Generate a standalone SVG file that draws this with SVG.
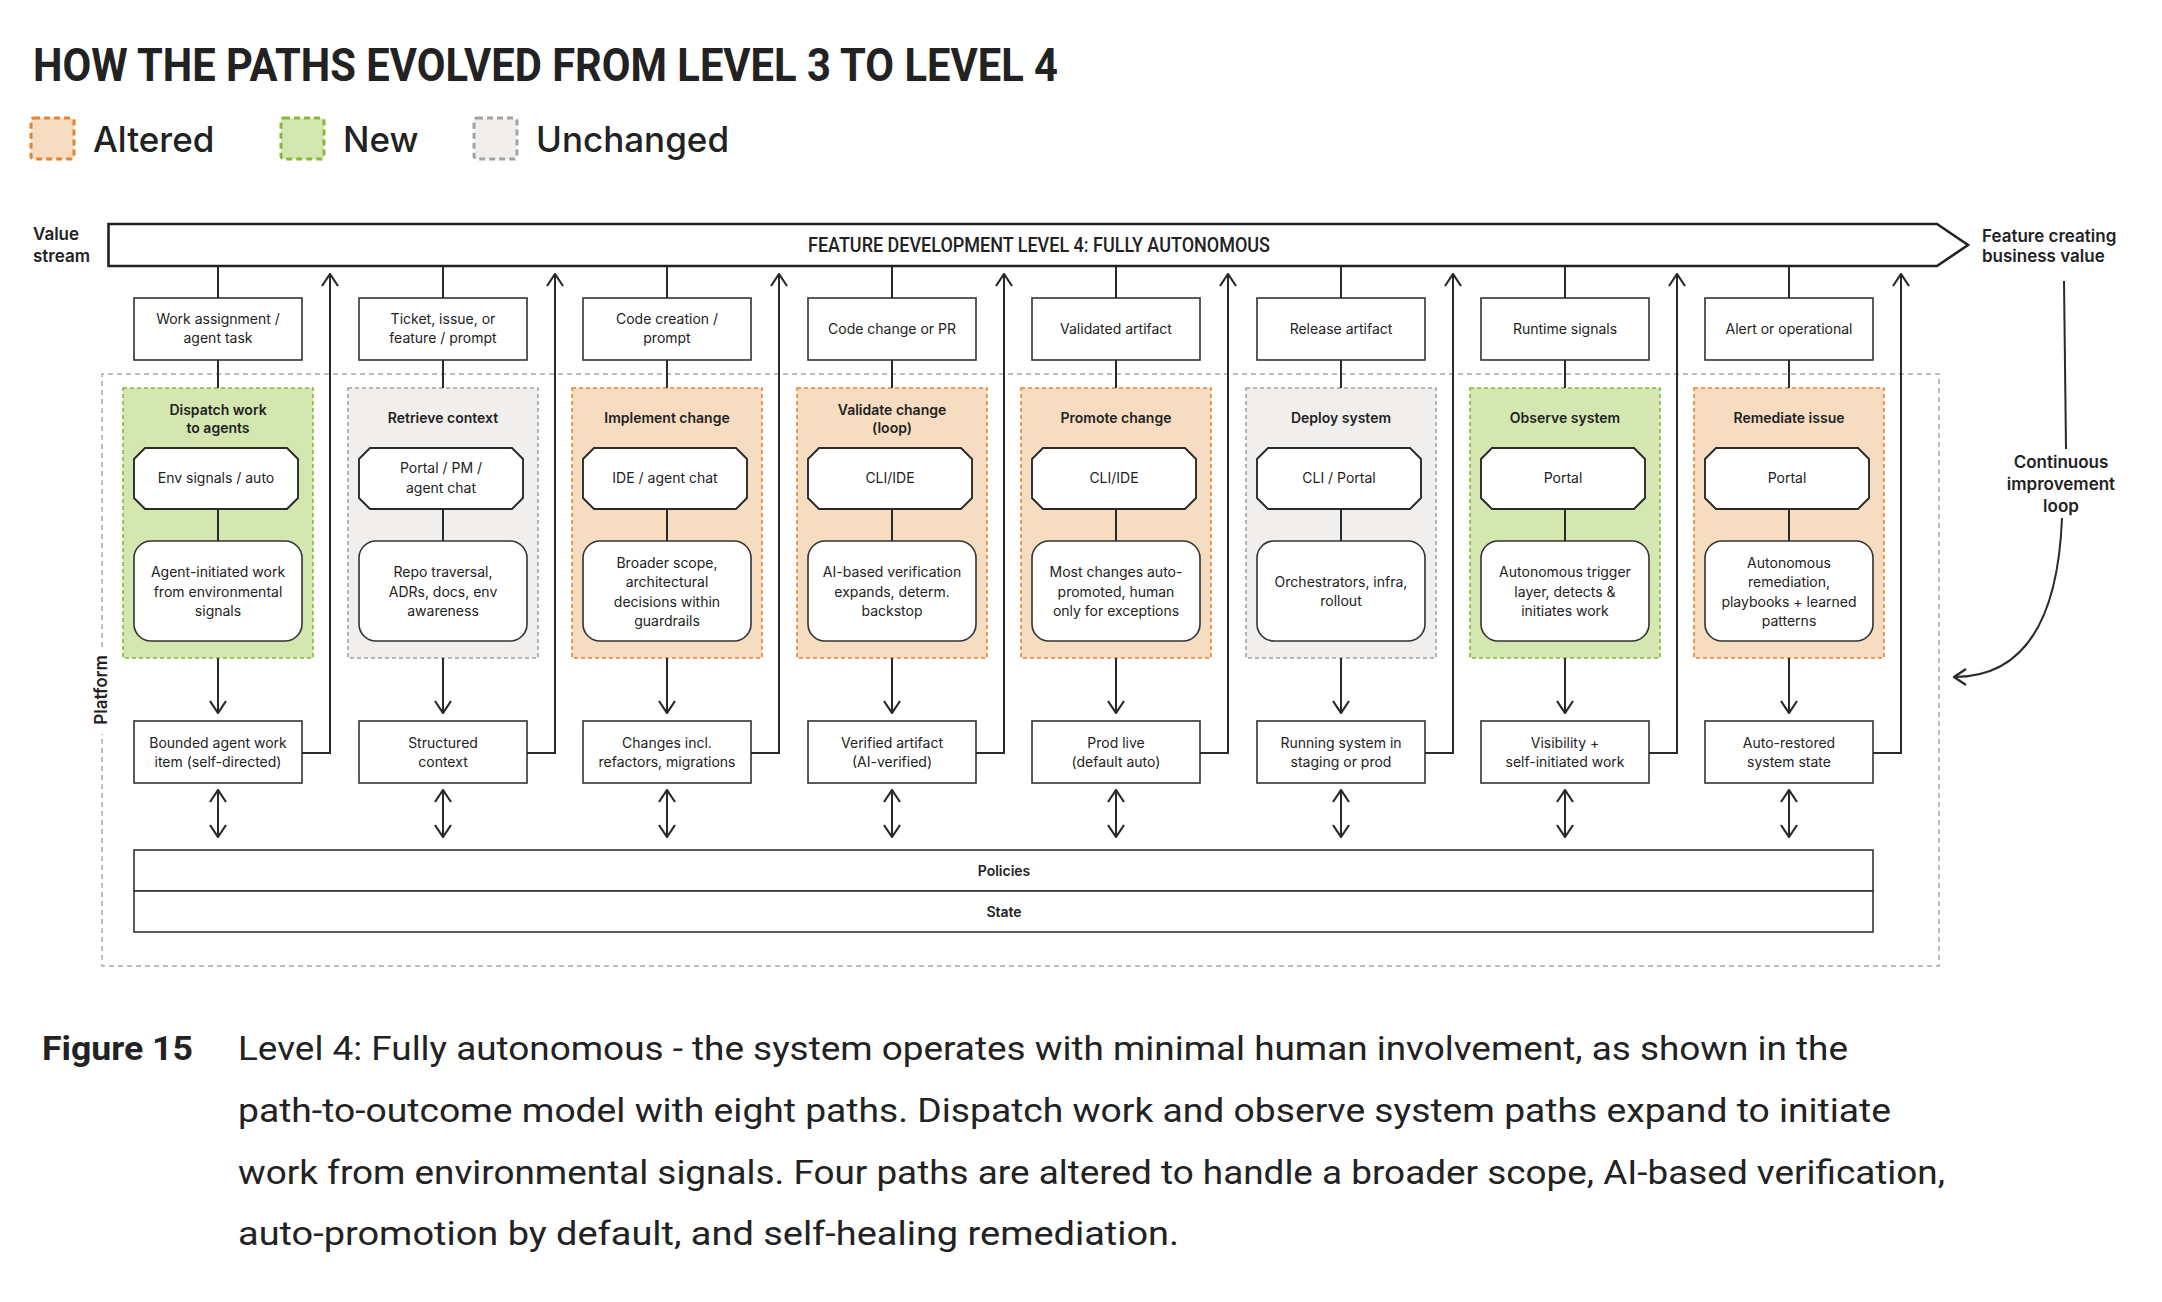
<svg xmlns="http://www.w3.org/2000/svg" width="2162" height="1302" viewBox="0 0 2162 1302">
<defs>
<style>
.bg{fill:#ffffff}
.box{fill:#ffffff;stroke:#333333;stroke-width:1.6}
.oct{fill:#ffffff;stroke:#2a2a2a;stroke-width:1.9}
.alt{fill:#f6dcc0;stroke:#e8822e;stroke-width:1.6;stroke-dasharray:4 3}
.new{fill:#d5e7b0;stroke:#86b83a;stroke-width:1.6;stroke-dasharray:4 3}
.unc{fill:#f0efee;stroke:#a3a3a3;stroke-width:1.6;stroke-dasharray:4 3}
.lg{stroke-width:3;stroke-dasharray:6 4}
.t{font-family:Inter,"Liberation Sans",sans-serif;font-size:14px;fill:#222222;text-anchor:middle}
.h{font-family:Inter,"Liberation Sans",sans-serif;font-size:14px;font-weight:600;fill:#222222;text-anchor:middle}
.lbl{font-family:Inter,"Liberation Sans",sans-serif;font-size:17px;font-weight:600;fill:#222222}
.leg{font-family:Inter,"Liberation Sans",sans-serif;font-size:35px;font-weight:500;fill:#222222}
.cond{font-family:Roboto,"Liberation Sans",sans-serif;fill:#222222}
.ln{fill:none;stroke:#2a2a2a;stroke-width:2}
.ar{fill:none;stroke:#2a2a2a;stroke-width:2;marker-end:url(#ah)}
.dar{fill:none;stroke:#2a2a2a;stroke-width:2;marker-start:url(#ah);marker-end:url(#ah)}
</style>
<marker id="ah" viewBox="0 0 14 18" refX="13" refY="9" markerWidth="14" markerHeight="18" markerUnits="userSpaceOnUse" orient="auto-start-reverse">
<path d="M1,1 L13,9 L1,17" fill="none" stroke="#2a2a2a" stroke-width="2.2"/>
</marker>
</defs>
<rect class="bg" x="0" y="0" width="2162" height="1302"/>

<g id="title">
<text class="cond" x="33" y="81" font-size="46" font-weight="700" textLength="1025" lengthAdjust="spacingAndGlyphs">HOW THE PATHS EVOLVED FROM LEVEL 3 TO LEVEL 4</text>
</g>

<g id="legend">
<g id="legend-altered"><rect class="alt lg" x="31" y="118" width="43" height="41" rx="3"/><text class="leg" x="93" y="152">Altered</text></g>
<g id="legend-new"><rect class="new lg" x="281" y="118" width="43" height="41" rx="3"/><text class="leg" x="343" y="152">New</text></g>
<g id="legend-unchanged"><rect class="unc lg" x="474" y="118" width="43" height="41" rx="3"/><text class="leg" x="536" y="152">Unchanged</text></g>
</g>

<g id="platform">
<path d="M102,647 V374 H1939 V966 H102 V734" fill="none" stroke="#aaaaaa" stroke-width="1.5" stroke-dasharray="5 4"/>
<text class="lbl" transform="translate(107,690) rotate(-90)" text-anchor="middle" font-size="16">Platform</text>
</g>

<g id="value-stream-label">
<text class="lbl" x="33" y="240" font-size="16.5">Value</text>
<text class="lbl" x="33" y="262" font-size="16.5">stream</text>
</g>

<g id="value-stream-bar">
<path d="M108.5,224 H1937 L1968,245 L1937,266 H108.5 Z" fill="#ffffff" stroke="#222222" stroke-width="2.6"/>
<text class="cond" x="808" y="252" font-size="19.5" font-weight="500" textLength="462" lengthAdjust="spacingAndGlyphs">FEATURE DEVELOPMENT LEVEL 4: FULLY AUTONOMOUS</text>
</g>

<g id="outcome-label">
<text class="lbl" x="1982" y="242">Feature creating</text>
<text class="lbl" x="1982" y="262">business value</text>
</g>

<g id="loop-label">
<text class="lbl" x="2061" y="468" text-anchor="middle">Continuous</text>
<text class="lbl" x="2061" y="490" text-anchor="middle">improvement</text>
<text class="lbl" x="2061" y="512" text-anchor="middle">loop</text>
</g>

<!-- Column 1 -->
<g id="col1-input"><rect class="box" x="134" y="298" width="168" height="62"/><text class="t" x="218" y="324">Work assignment /</text><text class="t" x="218" y="343">agent task</text></g>
<g id="col1-path"><rect class="new" x="123" y="388" width="190" height="270"/><text class="h" x="218" y="415">Dispatch work</text><text class="h" x="218" y="433">to agents</text></g>
<g id="col1-interface"><path class="oct" d="M145,448 H287 L298,459 V498 L287,509 H145 L134,498 V459 Z"/><text class="t" x="216" y="483">Env signals / auto</text></g>
<g id="col1-capability"><rect class="box" x="134" y="541" width="168" height="100" rx="17"/><text class="t" x="218" y="577">Agent-initiated work</text><text class="t" x="218" y="596.5">from environmental</text><text class="t" x="218" y="616">signals</text></g>
<g id="col1-output"><rect class="box" x="134" y="721" width="168" height="62"/><text class="t" x="218" y="748">Bounded agent work</text><text class="t" x="218" y="767">item (self-directed)</text></g>

<!-- Column 2 -->
<g id="col2-input"><rect class="box" x="359" y="298" width="168" height="62"/><text class="t" x="443" y="324">Ticket, issue, or</text><text class="t" x="443" y="343">feature / prompt</text></g>
<g id="col2-path"><rect class="unc" x="348" y="388" width="190" height="270"/><text class="h" x="443" y="423">Retrieve context</text></g>
<g id="col2-interface"><path class="oct" d="M370,448 H512 L523,459 V498 L512,509 H370 L359,498 V459 Z"/><text class="t" x="441" y="473">Portal / PM /</text><text class="t" x="441" y="492.5">agent chat</text></g>
<g id="col2-capability"><rect class="box" x="359" y="541" width="168" height="100" rx="17"/><text class="t" x="443" y="577">Repo traversal,</text><text class="t" x="443" y="596.5">ADRs, docs, env</text><text class="t" x="443" y="616">awareness</text></g>
<g id="col2-output"><rect class="box" x="359" y="721" width="168" height="62"/><text class="t" x="443" y="748">Structured</text><text class="t" x="443" y="767">context</text></g>

<!-- Column 3 -->
<g id="col3-input"><rect class="box" x="583" y="298" width="168" height="62"/><text class="t" x="667" y="324">Code creation /</text><text class="t" x="667" y="343">prompt</text></g>
<g id="col3-path"><rect class="alt" x="572" y="388" width="190" height="270"/><text class="h" x="667" y="423">Implement change</text></g>
<g id="col3-interface"><path class="oct" d="M594,448 H736 L747,459 V498 L736,509 H594 L583,498 V459 Z"/><text class="t" x="665" y="483">IDE / agent chat</text></g>
<g id="col3-capability"><rect class="box" x="583" y="541" width="168" height="100" rx="17"/><text class="t" x="667" y="568">Broader scope,</text><text class="t" x="667" y="587.3">architectural</text><text class="t" x="667" y="606.6">decisions within</text><text class="t" x="667" y="626">guardrails</text></g>
<g id="col3-output"><rect class="box" x="583" y="721" width="168" height="62"/><text class="t" x="667" y="748">Changes incl.</text><text class="t" x="667" y="767">refactors, migrations</text></g>

<!-- Column 4 -->
<g id="col4-input"><rect class="box" x="808" y="298" width="168" height="62"/><text class="t" x="892" y="334">Code change or PR</text></g>
<g id="col4-path"><rect class="alt" x="797" y="388" width="190" height="270"/><text class="h" x="892" y="415">Validate change</text><text class="h" x="892" y="433">(loop)</text></g>
<g id="col4-interface"><path class="oct" d="M819,448 H961 L972,459 V498 L961,509 H819 L808,498 V459 Z"/><text class="t" x="890" y="483">CLI/IDE</text></g>
<g id="col4-capability"><rect class="box" x="808" y="541" width="168" height="100" rx="17"/><text class="t" x="892" y="577">AI-based verification</text><text class="t" x="892" y="596.5">expands, determ.</text><text class="t" x="892" y="616">backstop</text></g>
<g id="col4-output"><rect class="box" x="808" y="721" width="168" height="62"/><text class="t" x="892" y="748">Verified artifact</text><text class="t" x="892" y="767">(AI-verified)</text></g>

<!-- Column 5 -->
<g id="col5-input"><rect class="box" x="1032" y="298" width="168" height="62"/><text class="t" x="1116" y="334">Validated artifact</text></g>
<g id="col5-path"><rect class="alt" x="1021" y="388" width="190" height="270"/><text class="h" x="1116" y="423">Promote change</text></g>
<g id="col5-interface"><path class="oct" d="M1043,448 H1185 L1196,459 V498 L1185,509 H1043 L1032,498 V459 Z"/><text class="t" x="1114" y="483">CLI/IDE</text></g>
<g id="col5-capability"><rect class="box" x="1032" y="541" width="168" height="100" rx="17"/><text class="t" x="1116" y="577">Most changes auto-</text><text class="t" x="1116" y="596.5">promoted, human</text><text class="t" x="1116" y="616">only for exceptions</text></g>
<g id="col5-output"><rect class="box" x="1032" y="721" width="168" height="62"/><text class="t" x="1116" y="748">Prod live</text><text class="t" x="1116" y="767">(default auto)</text></g>

<!-- Column 6 -->
<g id="col6-input"><rect class="box" x="1257" y="298" width="168" height="62"/><text class="t" x="1341" y="334">Release artifact</text></g>
<g id="col6-path"><rect class="unc" x="1246" y="388" width="190" height="270"/><text class="h" x="1341" y="423">Deploy system</text></g>
<g id="col6-interface"><path class="oct" d="M1268,448 H1410 L1421,459 V498 L1410,509 H1268 L1257,498 V459 Z"/><text class="t" x="1339" y="483">CLI / Portal</text></g>
<g id="col6-capability"><rect class="box" x="1257" y="541" width="168" height="100" rx="17"/><text class="t" x="1341" y="587">Orchestrators, infra,</text><text class="t" x="1341" y="606">rollout</text></g>
<g id="col6-output"><rect class="box" x="1257" y="721" width="168" height="62"/><text class="t" x="1341" y="748">Running system in</text><text class="t" x="1341" y="767">staging or prod</text></g>

<!-- Column 7 -->
<g id="col7-input"><rect class="box" x="1481" y="298" width="168" height="62"/><text class="t" x="1565" y="334">Runtime signals</text></g>
<g id="col7-path"><rect class="new" x="1470" y="388" width="190" height="270"/><text class="h" x="1565" y="423">Observe system</text></g>
<g id="col7-interface"><path class="oct" d="M1492,448 H1634 L1645,459 V498 L1634,509 H1492 L1481,498 V459 Z"/><text class="t" x="1563" y="483">Portal</text></g>
<g id="col7-capability"><rect class="box" x="1481" y="541" width="168" height="100" rx="17"/><text class="t" x="1565" y="577">Autonomous trigger</text><text class="t" x="1565" y="596.5">layer, detects &amp;</text><text class="t" x="1565" y="616">initiates work</text></g>
<g id="col7-output"><rect class="box" x="1481" y="721" width="168" height="62"/><text class="t" x="1565" y="748">Visibility +</text><text class="t" x="1565" y="767">self-initiated work</text></g>

<!-- Column 8 -->
<g id="col8-input"><rect class="box" x="1705" y="298" width="168" height="62"/><text class="t" x="1789" y="334">Alert or operational</text></g>
<g id="col8-path"><rect class="alt" x="1694" y="388" width="190" height="270"/><text class="h" x="1789" y="423">Remediate issue</text></g>
<g id="col8-interface"><path class="oct" d="M1716,448 H1858 L1869,459 V498 L1858,509 H1716 L1705,498 V459 Z"/><text class="t" x="1787" y="483">Portal</text></g>
<g id="col8-capability"><rect class="box" x="1705" y="541" width="168" height="100" rx="17"/><text class="t" x="1789" y="568">Autonomous</text><text class="t" x="1789" y="587.3">remediation,</text><text class="t" x="1789" y="606.6">playbooks + learned</text><text class="t" x="1789" y="626">patterns</text></g>
<g id="col8-output"><rect class="box" x="1705" y="721" width="168" height="62"/><text class="t" x="1789" y="748">Auto-restored</text><text class="t" x="1789" y="767">system state</text></g>

<g id="policies"><rect class="box" x="134" y="850" width="1739" height="41"/><text class="h" x="1004" y="875.5">Policies</text></g>
<g id="state"><rect class="box" x="134" y="891" width="1739" height="41"/><text class="h" x="1004" y="916.5">State</text></g>

<g id="connectors">
<!-- col1 -->
<path class="ln" d="M218,266 V298 M218,360 V388 M218,509 V541"/>
<path class="ar" d="M218,658 V713"/>
<path class="ar" d="M302,753 H330 V274"/>
<path class="dar" d="M218,790 V837"/>
<!-- col2 -->
<path class="ln" d="M443,266 V298 M443,360 V388 M443,509 V541"/>
<path class="ar" d="M443,658 V713"/>
<path class="ar" d="M527,753 H555 V274"/>
<path class="dar" d="M443,790 V837"/>
<!-- col3 -->
<path class="ln" d="M667,266 V298 M667,360 V388 M667,509 V541"/>
<path class="ar" d="M667,658 V713"/>
<path class="ar" d="M751,753 H779 V274"/>
<path class="dar" d="M667,790 V837"/>
<!-- col4 -->
<path class="ln" d="M892,266 V298 M892,360 V388 M892,509 V541"/>
<path class="ar" d="M892,658 V713"/>
<path class="ar" d="M976,753 H1004 V274"/>
<path class="dar" d="M892,790 V837"/>
<!-- col5 -->
<path class="ln" d="M1116,266 V298 M1116,360 V388 M1116,509 V541"/>
<path class="ar" d="M1116,658 V713"/>
<path class="ar" d="M1200,753 H1228 V274"/>
<path class="dar" d="M1116,790 V837"/>
<!-- col6 -->
<path class="ln" d="M1341,266 V298 M1341,360 V388 M1341,509 V541"/>
<path class="ar" d="M1341,658 V713"/>
<path class="ar" d="M1425,753 H1453 V274"/>
<path class="dar" d="M1341,790 V837"/>
<!-- col7 -->
<path class="ln" d="M1565,266 V298 M1565,360 V388 M1565,509 V541"/>
<path class="ar" d="M1565,658 V713"/>
<path class="ar" d="M1649,753 H1677 V274"/>
<path class="dar" d="M1565,790 V837"/>
<!-- col8 -->
<path class="ln" d="M1789,266 V298 M1789,360 V388 M1789,509 V541"/>
<path class="ar" d="M1789,658 V713"/>
<path class="ar" d="M1873,753 H1901 V274"/>
<path class="dar" d="M1789,790 V837"/>
<!-- continuous improvement loop -->
<path class="ln" d="M2064,281 L2066,449"/>
<path class="ar" d="M2062,518 C2058,620 2025,677 1954,677"/>
</g>

<g id="caption">
<text class="cond" x="42" y="1060" font-size="33" font-weight="700" textLength="151" lengthAdjust="spacingAndGlyphs">Figure 15</text>
<text class="cond" x="238" y="1060" font-size="33" textLength="1610" lengthAdjust="spacingAndGlyphs">Level 4: Fully autonomous - the system operates with minimal human involvement, as shown in the</text>
<text class="cond" x="238" y="1122" font-size="33" textLength="1653" lengthAdjust="spacingAndGlyphs">path-to-outcome model with eight paths. Dispatch work and observe system paths expand to initiate</text>
<text class="cond" x="238" y="1184" font-size="33" textLength="1707" lengthAdjust="spacingAndGlyphs">work from environmental signals. Four paths are altered to handle a broader scope, AI-based verification,</text>
<text class="cond" x="238" y="1245" font-size="33" textLength="941" lengthAdjust="spacingAndGlyphs">auto-promotion by default, and self-healing remediation.</text>
</g>
</svg>
